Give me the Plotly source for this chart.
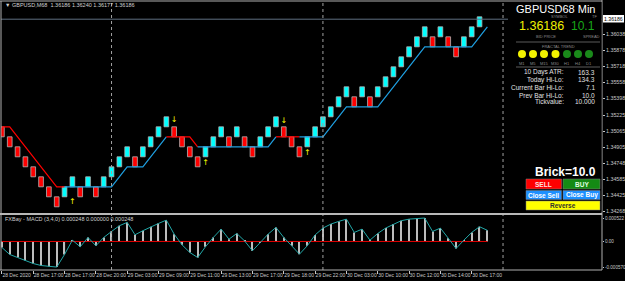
import plotly.graph_objects as go

W, H = 625, 281

# ---------------- data ----------------
brick_idx = list(range(1, 63))
brick_open = [1.3511, 1.3501, 1.3491, 1.3481, 1.3471, 1.3461, 1.3451, 1.3441,
              1.3441, 1.3451, 1.3451, 1.3451, 1.3451, 1.3451, 1.3461, 1.3471,
              1.3481, 1.3481, 1.3481, 1.3491, 1.3501, 1.3511, 1.3511, 1.3501,
              1.3491, 1.3481, 1.3481, 1.3491, 1.3501, 1.3501, 1.3501, 1.3501,
              1.3491, 1.3491, 1.3501, 1.3511, 1.3511, 1.3501, 1.3491, 1.3491,
              1.3501, 1.3511, 1.3521, 1.3531, 1.3541, 1.3541, 1.3541, 1.3541,
              1.3541, 1.3551, 1.3561, 1.3571, 1.3581, 1.3591, 1.3601, 1.3601,
              1.3601, 1.3601, 1.3591, 1.3591, 1.3601, 1.3611]
brick_close = [1.3501, 1.3491, 1.3481, 1.3471, 1.3461, 1.3451, 1.3441, 1.3431,
               1.3451, 1.3461, 1.3441, 1.3461, 1.3441, 1.3461, 1.3471, 1.3481,
               1.3491, 1.3471, 1.3491, 1.3501, 1.3511, 1.3521, 1.3501, 1.3491,
               1.3481, 1.3471, 1.3491, 1.3501, 1.3511, 1.3491, 1.3511, 1.3491,
               1.3481, 1.3501, 1.3511, 1.3521, 1.3501, 1.3491, 1.3481, 1.3501,
               1.3511, 1.3521, 1.3531, 1.3541, 1.3551, 1.3531, 1.3551, 1.3531,
               1.3551, 1.3561, 1.3571, 1.3581, 1.3591, 1.3601, 1.3611, 1.3591,
               1.3611, 1.3591, 1.3581, 1.3601, 1.3611, 1.3621]

stop_idx = list(range(1, 64))
stop_price = [1.3511, 1.3511, 1.3501, 1.3491, 1.3481, 1.3471, 1.3461, 1.3451,
              1.3451, 1.3451, 1.3451, 1.3451, 1.3451, 1.3451, 1.3451, 1.3461,
              1.3471, 1.3471, 1.3471, 1.3481, 1.3491, 1.3501, 1.3501, 1.3501,
              1.3501, 1.3491, 1.3491, 1.3491, 1.3491, 1.3491, 1.3491, 1.3491,
              1.3491, 1.3491, 1.3491, 1.3501, 1.3501, 1.3501, 1.3501, 1.3501,
              1.3501, 1.3501, 1.3511, 1.3521, 1.3531, 1.3531, 1.3531, 1.3531,
              1.3531, 1.3541, 1.3551, 1.3561, 1.3571, 1.3581, 1.3591, 1.3591,
              1.3591, 1.3591, 1.3591, 1.3591, 1.3591, 1.3601, 1.3611]
# trend of the stop-line segment that starts at each point
stop_seg_trend = (['dn'] * 8 + ['up'] * 13 + ['dn'] * 4 + ['up'] * 10 +
                  ['dn'] * 3 + ['up'] * 25)

fractal_idx = [10, 23, 27, 37, 40]
fractal_price = [1.34358, 1.35178, 1.34748, 1.35168, 1.34848]
fractal_dir = ['up', 'down', 'up', 'down', 'up']

macd_idx = list(range(1, 64))
macd_main = [-0.000134, -0.000290, -0.000357, -0.000424, -0.000491, -0.000535,
             -0.000558, -0.000570, -0.000290, 0.000029, -0.000118, 0.000089,
             -0.000096, 0.000089, 0.000223, 0.000350, 0.000424, 0.000149,
             0.000239, 0.000328, 0.000401, 0.000475, 0.000163, -0.000074,
             -0.000245, -0.000357, -0.000118, 0.000089, 0.000274, 0.000051,
             0.000178, 0.000011, -0.000207, -0.000022, 0.000163, 0.000312,
             0.000089, -0.000096, -0.000283, -0.000096, 0.000145, 0.000297,
             0.000386, 0.000446, 0.000497, 0.000201, 0.000274, 0.000029,
             0.000178, 0.000297, 0.000386, 0.000462, 0.000497, 0.000510,
             0.000522, 0.000223, 0.000297, 0.000074, -0.000156, 0.000029,
             0.000201, 0.000328, 0.000248]
macd_signal = [0.0, 0.0, 0.0, 0.0, 0.0, 0.0, 0.0, 0.0, 0.0, 0.0, 0.0, 0.0, 0.0,
               0.0, 0.0, 0.0, 0.0, 0.0, 0.0, 0.0, 0.0, 0.0, 0.0, 0.0, 0.0, 0.0,
               0.0, 0.0, 0.0, 0.0, 0.0, 0.0, 0.0, 0.0, 0.0, 0.0, 0.0, 0.0, 0.0,
               0.0, 0.0, 0.0, 0.0, 0.0, 0.0, 0.0, 0.0, 0.0, 0.0, 0.0, 0.0, 0.0,
               0.0, 0.0, 0.0, 0.0, 0.0, 0.0, 0.0, 0.0, 0.0, 0.0, 0.0]

separator_idx = [15, 42, 65]
time_tick_idx = [1, 5, 9, 13, 17, 21, 25, 29, 33, 37, 41, 45, 49, 53, 57, 61]
time_tick_text = ['28 Dec 2020', '28 Dec 17:00', '28 Dec 17:00', '28 Dec 20:00',
                  '29 Dec 03:00', '29 Dec 09:00', '29 Dec 11:00', '29 Dec 13:00',
                  '29 Dec 17:00', '29 Dec 18:00', '29 Dec 22:00', '30 Dec 03:00',
                  '30 Dec 10:00', '30 Dec 12:00', '30 Dec 14:00', '30 Dec 17:00']

price_tick_vals = [1.36038, 1.35878, 1.35718, 1.35558, 1.35398, 1.35225,
                   1.35065, 1.34905, 1.34748, 1.34585, 1.34425, 1.34268]
price_tick_text = ['1.36038', '1.35878', '1.35718', '1.35558', '1.35398', '1.35225',
                   '1.35065', '1.34905', '1.34748', '1.34585', '1.34425', '1.34268']
bid_price = 1.36186
macd_tick_vals = [0.000522, 0.0, -0.000570]
macd_tick_text = ['0.000522', '0.00', '-0.000570']

title_text = '\u25bc GBPUSD,M68  1.36186 1.36240 1.36177 1.36186'
macd_title = 'FXBay - MACD (3,4,0) 0.000248 0.000000 0.000248'

panel_symbol = 'GBPUSD68 Min'
panel_bid = '1.36186'
panel_spread = '10.1'
trend_tf = ['M1', 'M5', 'M15', 'M30', 'H1', 'H4', 'D1']
trend_state = ['up', 'up', 'up', 'up', 'dn', 'dn', 'dn']
stat_labels = ['10 Days ATR:', 'Today Hi-Lo:', 'Current Bar Hi-Lo:', 'Prev Bar Hi-Lo:', 'Tickvalue:']
stat_values = ['163.3', '134.3', '7.1', '10.0', '10.000']
brick_text = 'Brick=10.0'

# ---------------- styling / layout helpers ----------------
FONT = 'Liberation Sans, Arial, sans-serif'
BG = '#000000'
UP_C = '#00ffff'
DN_C = '#ff0000'
LINE_UP = '#1f9fe0'
LINE_DN = '#ff0000'
AX_C = '#c8c8c8'


def fx(px):
    return px / W


def fy(py):
    return 1 - py / H


X_RANGE = [0.885, 77.64]

fig = go.Figure()

# Renko bricks
b_low = [min(o, c) for o, c in zip(brick_open, brick_close)]
b_h = [abs(c - o) for o, c in zip(brick_open, brick_close)]
b_col = [UP_C if c > o else DN_C for o, c in zip(brick_open, brick_close)]
fig.add_trace(go.Bar(x=brick_idx, y=b_h, base=b_low, width=0.6,
                     marker=dict(color=b_col, line=dict(color='#b4b4b4', width=0.8)),
                     xaxis='x', yaxis='y', hoverinfo='skip'))

# trailing stop line, split into coloured runs
runs = []
start = 0
for i in range(1, len(stop_seg_trend) + 1):
    if i == len(stop_seg_trend) or stop_seg_trend[i] != stop_seg_trend[start]:
        runs.append((start, i, stop_seg_trend[start]))
        start = i
for s, e, t in runs:
    e2 = min(e + 1, len(stop_idx))
    fig.add_trace(go.Scatter(x=stop_idx[s:e2], y=stop_price[s:e2], mode='lines',
                             line=dict(color=LINE_DN if t == 'dn' else LINE_UP, width=1.2),
                             xaxis='x', yaxis='y', hoverinfo='skip'))

# fractal arrows
fig.add_trace(go.Scatter(x=fractal_idx, y=fractal_price, mode='text',
                         text=['\u2191' if d == 'up' else '\u2193' for d in fractal_dir],
                         textposition='middle center',
                         textfont=dict(family='DejaVu Sans', size=8, color='#ffff00'),
                         xaxis='x', yaxis='y', hoverinfo='skip'))

# MACD
fig.add_trace(go.Bar(x=macd_idx, y=macd_main, width=0.14,
                     marker=dict(color='#bdbdbd', line=dict(width=0)),
                     xaxis='x2', yaxis='y2', hoverinfo='skip'))
fig.add_trace(go.Scatter(x=macd_idx, y=macd_signal, mode='lines',
                         line=dict(color='#e00000', width=1),
                         xaxis='x2', yaxis='y2', hoverinfo='skip'))
fig.add_trace(go.Scatter(x=macd_idx, y=macd_main, mode='lines',
                         line=dict(color='#22a8a8', width=1),
                         xaxis='x2', yaxis='y2', hoverinfo='skip'))

shapes = []
# period separators
for s in separator_idx:
    shapes.append(dict(type='line', xref='x', yref='paper', x0=s, x1=s, y0=fy(270), y1=fy(2),
                       line=dict(color='#a0a0a0', width=1, dash='dot'), layer='above'))
# bid line
shapes.append(dict(type='line', xref='paper', yref='y', x0=fx(1), x1=fx(602), y0=bid_price, y1=bid_price,
                   line=dict(color='#5f6f80', width=1), layer='above'))
# borders
shapes.append(dict(type='line', xref='paper', yref='paper', x0=0, x1=fx(602), y0=fy(1), y1=fy(1),
                   line=dict(color='#b0b0b0', width=1), layer='above'))
shapes.append(dict(type='line', xref='paper', yref='paper', x0=fx(1), x1=fx(1), y0=fy(270), y1=fy(1),
                   line=dict(color='#b0b0b0', width=1), layer='above'))
shapes.append(dict(type='line', xref='paper', yref='paper', x0=fx(602), x1=fx(602), y0=fy(270), y1=fy(0),
                   line=dict(color='#b0b0b0', width=1), layer='above'))
shapes.append(dict(type='rect', xref='paper', yref='paper', x0=0, x1=fx(602), y0=fy(215), y1=fy(213),
                   fillcolor='#b8b8b8', line=dict(width=0), layer='above'))
shapes.append(dict(type='line', xref='paper', yref='paper', x0=0, x1=fx(602), y0=fy(270), y1=fy(270),
                   line=dict(color='#b0b0b0', width=1), layer='above'))

# info panel background
shapes.append(dict(type='rect', xref='paper', yref='paper', x0=fx(508), x1=fx(601.5), y0=fy(212), y1=fy(2),
                   fillcolor=BG, line=dict(width=0), layer='above'))
for yy in (42, 67):
    shapes.append(dict(type='line', xref='paper', yref='paper', x0=fx(516), x1=fx(600), y0=fy(yy), y1=fy(yy),
                       line=dict(color='#5a5a5a', width=1), layer='above'))
circ_x = [522, 533, 544, 555.5, 567, 578, 589]
for cx, st in zip(circ_x, trend_state):
    col = '#f2f200' if st == 'up' else '#1a8a1a'
    shapes.append(dict(type='circle', xref='paper', yref='paper', x0=fx(cx - 4), x1=fx(cx + 4),
                       y0=fy(58), y1=fy(50), fillcolor=col, line=dict(width=0), layer='above'))
# buttons
buttons = [('SELL', 526, 561.5, 179, 189, '#ff0000', '#ffe0e0'),
           ('BUY', 563, 600, 179, 189, '#148a14', '#e0ffe0'),
           ('Close Sell', 526, 561.5, 190.5, 199.5, '#1e90ff', '#ffffff'),
           ('Close Buy', 563, 600, 190.5, 199.5, '#1e90ff', '#ffffff'),
           ('Reverse', 526, 600, 201, 210, '#ffff00', '#303030')]
for txt, x0, x1, y0, y1, bg, fg in buttons:
    shapes.append(dict(type='rect', xref='paper', yref='paper', x0=fx(x0), x1=fx(x1), y0=fy(y1), y1=fy(y0),
                       fillcolor=bg, line=dict(color='#808080', width=0.5), layer='above'))
# current price tag
shapes.append(dict(type='rect', xref='paper', yref='paper', x0=fx(603), x1=fx(624), y0=fy(22.5), y1=fy(15),
                   fillcolor='#ffffff', line=dict(width=0), layer='above'))

ann = []


def text(x, y, t, size, color, xanchor='left', bold=False):
    ann.append(dict(x=fx(x), y=fy(y), xref='paper', yref='paper', text=('<b>%s</b>' % t) if bold else t,
                    showarrow=False, xanchor=xanchor, yanchor='middle',
                    font=dict(family=FONT, size=size, color=color)))


text(3, 5, title_text, 5.5, '#d0d0d0')
text(3, 219, macd_title, 5.5, '#d0d0d0')
text(613.5, 18.8, '1.36186', 5.2, '#000000', xanchor='center')

text(597, 9, panel_symbol, 11, '#ffffff', xanchor='right')
text(559, 16.5, 'SYMBOL', 4, '#8a8a8a', xanchor='center')
text(594, 16.5, 'TF', 4, '#8a8a8a', xanchor='center')
text(517, 26, panel_bid, 12.5, '#f0f000')
text(597, 26, panel_spread, 12, '#18a818', xanchor='right')
text(546, 36, 'BID PRICE', 4, '#8a8a8a', xanchor='center')
text(591, 36, 'SPREAD', 4, '#8a8a8a', xanchor='center')
text(558, 46, 'FRACTAL TREND', 4, '#8a8a8a', xanchor='center')
for cx, tf in zip(circ_x, trend_tf):
    text(cx, 63, tf, 4, '#8a8a8a', xanchor='center')
stat_y = [72, 80, 87.5, 95, 102]
for yy, lab, val in zip(stat_y, stat_labels, stat_values):
    text(566, yy, lab, 6.5, '#e0e0e0', xanchor='right')
    text(597, yy, val, 6.5, '#e0e0e0', xanchor='right')
text(598, 171.5, brick_text, 12, '#ffffff', xanchor='right', bold=True)
for txt, x0, x1, y0, y1, bg, fg in buttons:
    text((x0 + x1) / 2, (y0 + y1) / 2 + 0.3, txt, 6.5, fg, xanchor='center', bold=True)

fig.update_layout(
    width=W, height=H, margin=dict(l=0, r=0, t=0, b=0),
    paper_bgcolor=BG, plot_bgcolor=BG, showlegend=False, template='none',
    barmode='overlay', shapes=shapes, annotations=ann,
    font=dict(family=FONT, color=AX_C),
    xaxis=dict(domain=[fx(1), fx(602)], range=X_RANGE, anchor='y', showticklabels=False,
               showgrid=False, zeroline=False, showline=False, ticks='', automargin=False),
    yaxis=dict(domain=[fy(213), fy(2)], range=[1.34248, 1.36358], anchor='x', side='right',
               tickvals=price_tick_vals, ticktext=price_tick_text, ticks='outside', ticklen=2,
               tickcolor=AX_C, tickfont=dict(family=FONT, size=5.3, color=AX_C),
               showgrid=False, zeroline=False, showline=False, automargin=False),
    xaxis2=dict(domain=[fx(1), fx(602)], range=X_RANGE, anchor='y2', tickvals=time_tick_idx,
                ticktext=time_tick_text, ticks='outside', ticklen=3, tickcolor=AX_C,
                ticklabelposition='outside right', tickangle=0,
                tickfont=dict(family=FONT, size=5, color=AX_C), showgrid=False,
                zeroline=False, showline=False, automargin=False),
    yaxis2=dict(domain=[fy(270), fy(215)], range=[-0.000635, 0.000589], anchor='x2', side='right',
                tickvals=macd_tick_vals, ticktext=macd_tick_text, ticks='outside', ticklen=1,
                tickcolor=AX_C, tickfont=dict(family=FONT, size=4.6, color=AX_C),
                showgrid=False, zeroline=False, showline=False, automargin=False),
)

fig.write_html('out.html')
